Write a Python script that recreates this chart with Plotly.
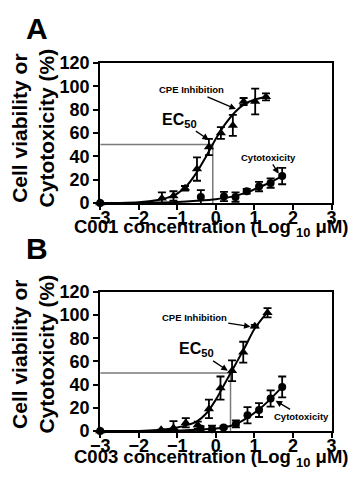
import plotly.graph_objects as go

# ---------------- Data ----------------
# Panel A (C001)
a_cpe_x = [-3, -1.4, -1.1, -0.8, -0.49, -0.18, 0.13, 0.44, 0.72, 1.02, 1.3]
a_cpe_y = [0, 4, 6, 12.5, 29, 48, 60, 66.5, 87, 87, 91]
a_cpe_err = [0, 5, 4, 2, 10, 7, 5, 9, 3, 11, 3]

a_cyto_x = [-3, -0.39, 0.21, 0.51, 0.8, 1.12, 1.42, 1.72]
a_cyto_y = [0, 5, 5.5, 5, 10, 14, 17, 23]
a_cyto_err = [0, 6, 4, 4, 2, 4, 4, 7]

a_cpe_fit_x = [-3, -2.5, -2, -1.5, -1.25, -1, -0.75, -0.5, -0.25, 0, 0.25, 0.5, 0.75, 1, 1.3]
a_cpe_fit_y = [0, 0, 0.5, 2.5, 4.5, 8, 15, 26, 40, 55, 68, 78, 85, 88.5, 91]
a_cyto_fit_x = [-3, -2, -1.5, -1, -0.5, 0, 0.5, 0.8, 1.1, 1.4, 1.72]
a_cyto_fit_y = [0, 0, 0.3, 0.8, 1.8, 3.2, 6, 9, 13, 17.5, 23]
a_ec50 = -0.08

# Panel B (C003)
b_cpe_x = [-3, -1.42, -1.1, -0.78, -0.47, -0.18, 0.12, 0.42, 0.71, 1.01, 1.34]
b_cpe_y = [0, 1, 2.5, 7, 5, 19, 37, 52, 68, 90.5, 102]
b_cpe_err = [0, 0, 6, 4, 3, 8, 10, 9, 9, 1, 4]

b_cyto_x = [-3, -0.4, -0.1, 0.2, 0.52, 0.82, 1.12, 1.42, 1.72]
b_cyto_y = [0, 2, 1.5, 3, 6, 13.5, 18, 28, 38]
b_cyto_err = [0, 2, 3, 1, 3, 7, 6, 7, 9]

b_cpe_fit_x = [-3, -2, -1.5, -1, -0.75, -0.5, -0.25, 0, 0.25, 0.5, 0.75, 1, 1.3]
b_cpe_fit_y = [0, 0, 0.8, 3, 5, 8, 15, 27, 42, 57, 72, 88, 101]
b_cyto_fit_x = [-3, -2, -1, -0.5, 0, 0.25, 0.5, 0.8, 1.1, 1.4, 1.72]
b_cyto_fit_y = [0, 0, 0.3, 1, 2, 3.2, 5.5, 11, 18, 27, 38]
b_ec50 = 0.38

x_ticks = [-3, -2, -1, 0, 1, 2, 3]
y_ticks = [0, 20, 40, 60, 80, 100, 120]
compounds = ["C001", "C003"]
panel_letters = ["A", "B"]

# ---------------- Figure ----------------
FONT = "Liberation Sans"
fig = go.Figure()

panels = [
    dict(cpe=(a_cpe_x, a_cpe_y, a_cpe_err), cyto=(a_cyto_x, a_cyto_y, a_cyto_err),
         cfit=(a_cpe_fit_x, a_cpe_fit_y), tfit=(a_cyto_fit_x, a_cyto_fit_y), ec=a_ec50,
         xa="x", ya="y"),
    dict(cpe=(b_cpe_x, b_cpe_y, b_cpe_err), cyto=(b_cyto_x, b_cyto_y, b_cyto_err),
         cfit=(b_cpe_fit_x, b_cpe_fit_y), tfit=(b_cyto_fit_x, b_cyto_fit_y), ec=b_ec50,
         xa="x2", ya="y2"),
]

for p in panels:
    xa, ya = p["xa"], p["ya"]
    fig.add_trace(go.Scatter(x=[-3, p["ec"], p["ec"]], y=[50, 50, 0], mode="lines",
                             line=dict(color="#7a7a7a", width=1.5), xaxis=xa, yaxis=ya,
                             showlegend=False, hoverinfo="skip"))
    for fx, fy in (p["cfit"], p["tfit"]):
        fig.add_trace(go.Scatter(x=fx, y=fy, mode="lines",
                                 line=dict(color="black", width=2, shape="spline", smoothing=0.8),
                                 xaxis=xa, yaxis=ya, showlegend=False, hoverinfo="skip"))
    for (dx, dy, de), sym, sz in ((p["cyto"], "circle", 8), (p["cpe"], "triangle-up", 9)):
        fig.add_trace(go.Scatter(x=dx, y=dy, mode="markers",
                                 marker=dict(symbol=sym, size=sz, color="black"),
                                 error_y=dict(type="data", array=de, visible=True,
                                              color="black", thickness=1.8, width=4),
                                 cliponaxis=False, xaxis=xa, yaxis=ya, showlegend=False))

axis_common = dict(showline=True, linecolor="black", linewidth=2, mirror=True,
                   ticks="outside", ticklen=5, tickwidth=1.8, tickcolor="black",
                   showgrid=False, zeroline=False,
                   tickfont=dict(family=FONT, size=18, color="black", weight="bold"))

# The page keeps the browser's 8px body margin, so the figure is 16px smaller
OFF = 8
W, H = 356 - 2 * OFF, 493 - 2 * OFF - 1
def px_x(v):
    return (v - OFF) / W
def px_y(v):
    return 1 - (v - OFF) / H

fig.update_layout(
    width=W, height=H, margin=dict(l=0, r=0, t=0, b=0),
    paper_bgcolor="white", plot_bgcolor="white",
    xaxis=dict(domain=[px_x(94), px_x(336)], range=[-3, 3], tickvals=x_ticks, anchor="y",
               ticklabelstandoff=-7, **axis_common),
    yaxis=dict(domain=[px_y(201), px_y(55)], range=[0, 120], tickvals=y_ticks, anchor="x", **axis_common),
    xaxis2=dict(domain=[px_x(94), px_x(336)], range=[-3, 3], tickvals=x_ticks, anchor="y2",
                ticklabelstandoff=-7, **axis_common),
    yaxis2=dict(domain=[px_y(439), px_y(294)], range=[0, 120], tickvals=y_ticks, anchor="x2", **axis_common),
)

ann = []
bold = lambda s: dict(family=FONT, size=s, color="black", weight="bold")
title_y = [227, 467]
ytitle_y = [123, 359]
letter_y = [19, 249]
for i in range(2):
    ann.append(dict(text=panel_letters[i], x=px_x(28), y=px_y(letter_y[i]), xref="paper", yref="paper",
                    showarrow=False, font=bold(30), xanchor="center", yanchor="middle"))
    ann.append(dict(text=f"{compounds[i]} concentration (Log <sub>10</sub> μM)",
                    x=px_x(210), y=px_y(title_y[i]), xref="paper", yref="paper",
                    showarrow=False, font=bold(18.5), xanchor="center", yanchor="middle"))
    ann.append(dict(text="Cell viability or<br>Cytotoxicity (%)", textangle=-90,
                    x=px_x(24), y=px_y(ytitle_y[i]), xref="paper", yref="paper",
                    showarrow=False, font=bold(21), xanchor="center", yanchor="middle"))

labels_a = [
    ("CPE Inhibition", -0.64, 97, 0.52, 80.5, 9.5),
    ("EC<sub>50</sub>", -0.94, 71, -0.18, 54, 16),
    ("Cytotoxicity", 1.36, 39, 1.63, 25, 9.5),
]
labels_b = [
    ("CPE Inhibition", -0.56, 98, 0.9, 90, 9.5),
    ("EC<sub>50</sub>", -0.5, 70, 0.31, 52, 16),
    ("Cytotoxicity", 2.23, 12.5, 1.55, 26, 9.5),
]
for labels, xr, yr in ((labels_a, "x", "y"), (labels_b, "x2", "y2")):
    for text, tx, ty, hx, hy, fs in labels:
        ann.append(dict(text=text, x=hx, y=hy, ax=tx, ay=ty, xref=xr, yref=yr, axref=xr, ayref=yr,
                        showarrow=True, arrowhead=2, arrowsize=1, arrowwidth=1.3, arrowcolor="black",
                        standoff=0, font=bold(fs)))
fig.update_layout(annotations=ann)

fig.write_html("out.html", config={"displayModeBar": False})
